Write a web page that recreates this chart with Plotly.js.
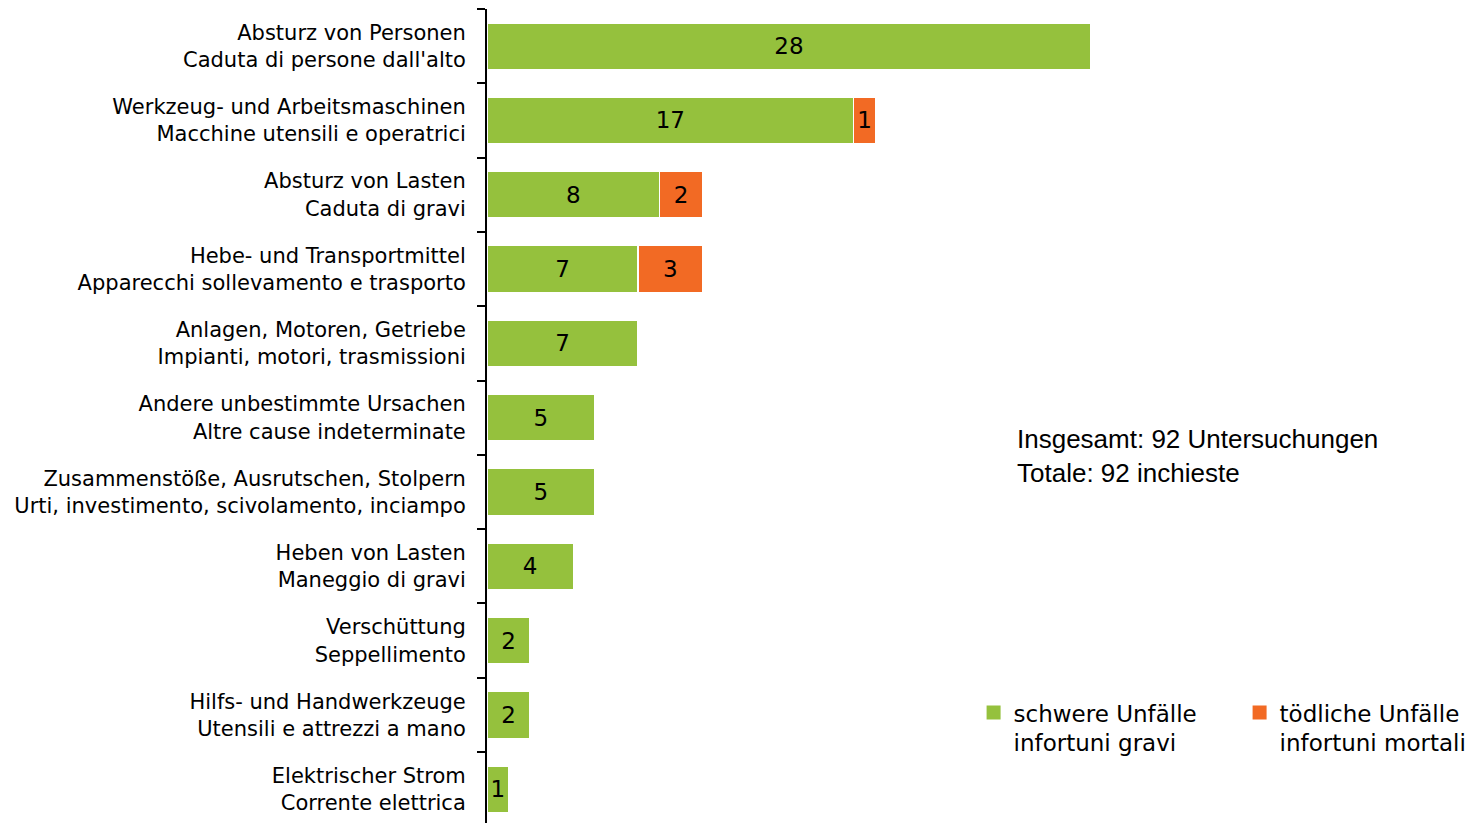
<!DOCTYPE html>
<html>
<head>
<meta charset="utf-8">
<script src="https://cdn.plot.ly/plotly-3.0.1.min.js"></script>
<style>html,body{margin:0;padding:0;background:#fff;}#chart{width:1472px;height:823px;}</style>
</head>
<body>
<div id="chart"></div>
<script>
const labelsDe = [
  "Absturz von Personen",
  "Werkzeug- und Arbeitsmaschinen",
  "Absturz von Lasten",
  "Hebe- und Transportmittel",
  "Anlagen, Motoren, Getriebe",
  "Andere unbestimmte Ursachen",
  "Zusammenstöße, Ausrutschen, Stolpern",
  "Heben von Lasten",
  "Verschüttung",
  "Hilfs- und Handwerkzeuge",
  "Elektrischer Strom"
];
const labelsIt = [
  "Caduta di persone dall'alto",
  "Macchine utensili e operatrici",
  "Caduta di gravi",
  "Apparecchi sollevamento e trasporto",
  "Impianti, motori, trasmissioni",
  "Altre cause indeterminate",
  "Urti, investimento, scivolamento, inciampo",
  "Maneggio di gravi",
  "Seppellimento",
  "Utensili e attrezzi a mano",
  "Corrente elettrica"
];
const schwere = [28, 17, 8, 7, 7, 5, 5, 4, 2, 2, 1];
const toedliche = [0, 1, 2, 3, 0, 0, 0, 0, 0, 0, 0];
const seriesNames = ["schwere Unfälle<br>infortuni gravi", "tödliche Unfälle<br>infortuni mortali"];
const totalText = "Insgesamt: 92 Untersuchungen<br>Totale: 92 inchieste";

const cats = labelsDe.map((d, i) => d + "<br>" + labelsIt[i]);
const green = "#95c13d";
const orange = "#f26a24";
const colors = [green, orange];
const labelFont = "DejaVu Sans, sans-serif";

const traces = [
  {
    type: "bar", orientation: "h", name: seriesNames[0], legendgroup: "a", showlegend: false,
    y: cats, x: schwere,
    text: schwere.map(v => v ? String(v) : ""),
    textposition: "inside", insidetextanchor: "middle",
    textfont: {color: "#000", size: 23, family: labelFont},
    marker: {color: green, line: {color: "#fff", width: 1.5}},
    hoverinfo: "x+name"
  },
  {
    type: "bar", orientation: "h", name: seriesNames[1], legendgroup: "b", showlegend: false,
    y: cats, x: toedliche.map(v => v || null),
    text: toedliche.map(v => v ? String(v) : ""),
    textposition: "inside", insidetextanchor: "middle",
    textfont: {color: "#000", size: 23, family: labelFont},
    marker: {color: orange, line: {color: "#fff", width: 1.5}},
    hoverinfo: "x+name"
  }
];
// legend-only entries with larger square swatches
seriesNames.forEach((n, i) => {
  traces.push({
    type: "scatter", mode: "markers", name: n, legendgroup: i ? "b" : "a",
    x: [null], y: [null], showlegend: true,
    marker: {symbol: "square", size: 14, color: colors[i]},
    hoverinfo: "skip"
  });
});

const layout = {
  width: 1472, height: 823,
  margin: {l: 487, r: 0, t: 9, b: 0, autoexpand: false},
  paper_bgcolor: "#fff", plot_bgcolor: "#fff",
  barmode: "stack",
  bargap: 0.37,
  showlegend: true,
  uniformtext: {mode: "show", minsize: 23},
  xaxis: {range: [0, 45.66], visible: false, fixedrange: true},
  yaxis: {
    type: "category",
    categoryorder: "array", categoryarray: cats,
    range: [10.455, -0.5],
    showline: true, linecolor: "#000", linewidth: 2,
    ticks: "outside", tickson: "boundaries", ticklen: 8, tickwidth: 2, tickcolor: "#000",
    ticklabelstandoff: 15,
    tickfont: {family: labelFont, size: 21, color: "#000"},
    showgrid: false, zeroline: false, fixedrange: true
  },
  legend: {
    orientation: "h",
    x: 0.494, y: 0.162, xanchor: "left", yanchor: "top",
    valign: "top",
    font: {family: labelFont, size: 23, color: "#000"},
    itemwidth: 30, entrywidth: 221,
    traceorder: "normal",
    bgcolor: "rgba(0,0,0,0)"
  },
  annotations: [{
    xref: "paper", yref: "paper",
    x: 0.536, y: 0.451, xanchor: "left", yanchor: "middle",
    text: totalText, showarrow: false, align: "left",
    font: {family: "Liberation Sans, Arial, sans-serif", size: 26, color: "#000"}
  }]
};

Plotly.newPlot("chart", traces, layout, {displayModeBar: false, staticPlot: true});
</script>
</body>
</html>
